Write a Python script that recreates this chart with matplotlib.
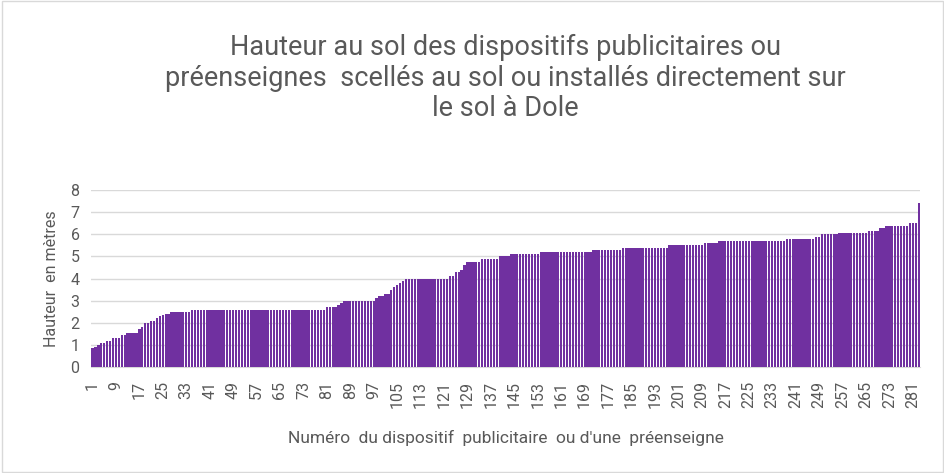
import matplotlib
matplotlib.use("Agg")
from matplotlib import pyplot as plt
import numpy as np

# hauteurs (valeur, nombre de dispositifs consécutifs)
valeurs = [0.85, 0.9, 1.0, 1.1, 1.2, 1.3, 1.45, 1.55, 1.7, 1.8,
           2.0, 2.1, 2.2, 2.3, 2.35, 2.4, 2.5, 2.6, 2.7, 2.8,
           2.9, 3.0, 3.1, 3.2, 3.3, 3.5, 3.6, 3.7, 3.8, 3.9,
           4.0, 4.1, 4.3, 4.4, 4.6, 4.75, 4.9, 5.0, 5.1, 5.2,
           5.3, 5.4, 5.5, 5.6, 5.7, 5.8, 5.9, 6.0, 6.05, 6.15,
           6.3, 6.4, 6.5, 7.4]
repetitions = [1, 1, 1, 2, 2, 3, 2, 4, 1, 1,
               2, 2, 1, 1, 1, 2, 7, 46, 4, 1,
               1, 11, 1, 2, 2, 1, 1, 1, 1, 1,
               15, 2, 2, 1, 1, 5, 6, 4, 10, 18,
               10, 16, 12, 5, 23, 10, 2, 6, 10, 4,
               2, 8, 3, 1]
hauteurs = np.repeat(valeurs, repetitions)
numeros = np.arange(1, len(hauteurs) + 1)
ticks_x = numeros[::8]

titre = ("Hauteur au sol des dispositifs publicitaires ou\n"
         "préenseignes  scellés au sol ou installés directement sur\n"
         "le sol à Dole")

gris = '#595959'
fig = plt.figure(figsize=(9.45, 4.73), dpi=100)
ax = fig.add_axes([0.096, 0.224, 0.878, 0.374])

ax.bar(numeros, hauteurs, width=0.8, color='#7030A0', zorder=3)
ax.set_xlim(0.4, len(hauteurs) + 0.6)
ax.set_ylim(0, 8)
ax.set_yticks(range(0, 9))
ax.set_xticks(ticks_x)
ax.set_xticklabels([str(t) for t in ticks_x], rotation=90)
ax.grid(axis='y', color='#D9D9D9', linewidth=1, zorder=0)
for s in ['top', 'right', 'left']:
    ax.spines[s].set_visible(False)
ax.spines['bottom'].set_color('#D9D9D9')
ax.tick_params(axis='both', length=0, colors=gris)
ax.tick_params(axis='x', pad=10, labelsize=11.5)
ax.tick_params(axis='y', pad=8, labelsize=11.5)
for lab in ax.get_xticklabels() + ax.get_yticklabels():
    lab.set_family('Roboto')

ax.set_ylabel('Hauteur  en mètres', color=gris, fontsize=11.5, family='Roboto', labelpad=8)
fig.text(0.535, 0.075, "Numéro  du dispositif  publicitaire  ou d'une  préenseigne",
         ha='center', va='center', color=gris, fontsize=12.5, family='Roboto')

fig.text(0.535, 0.835, titre, ha='center', va='center', color=gris,
         fontsize=19.5, family='Roboto', linespacing=1.15)

# cadre gris autour du graphique
fig.patches.append(plt.Rectangle((0.002, 0.003), 0.996, 0.994, transform=fig.transFigure,
                                 fill=False, edgecolor='#D9D9D9', linewidth=1))

fig.savefig('out.png', dpi=100)
